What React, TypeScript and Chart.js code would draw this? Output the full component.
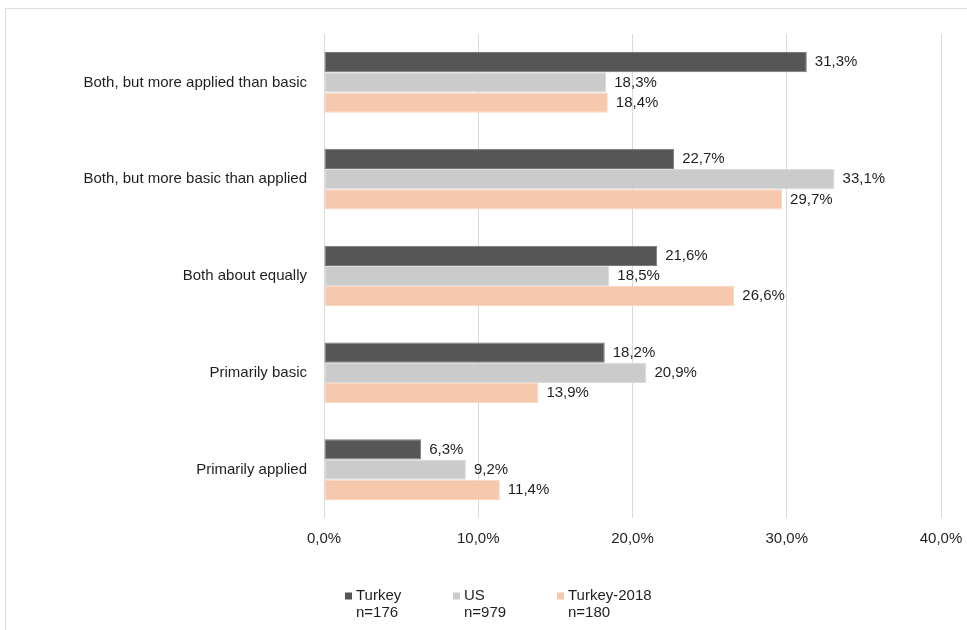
import React, { useEffect, useRef } from "react";
import { Chart, registerables } from "chart.js";

Chart.register(...registerables);

const categories = [
  "Both, but more applied than basic",
  "Both, but more basic than applied",
  "Both about equally",
  "Primarily basic",
  "Primarily applied",
];
const turkey = [31.3, 22.7, 21.6, 18.2, 6.3];
const us = [18.3, 33.1, 18.5, 20.9, 9.2];
const turkey2018 = [18.4, 29.7, 26.6, 13.9, 11.4];
const seriesNames = ["Turkey", "US", "Turkey-2018"];
const seriesSubs = ["n=176", "n=979", "n=180"];
const colors = ["#565656", "#cbcbcb", "#f6c8ad"];
const borders = ["#7a7a7a", "#dcdcdc", "#fad6c1"];

const FONT = '"Liberation Sans", Arial, sans-serif';
const FS = 15;
const TEXT = "#1f1f1f";
const fmt = (v: number) => v.toFixed(1).replace(".", ",") + "%";

const framePlugin = {
  id: "frame",
  beforeDraw(chart: any) {
    const ctx = chart.ctx;
    ctx.save();
    ctx.fillStyle = "#ffffff";
    ctx.fillRect(0, 0, chart.width, chart.height);
    ctx.strokeStyle = "#dedede";
    ctx.lineWidth = 1;
    ctx.strokeRect(5.5, 8.5, chart.width + 20, chart.height + 20);
    ctx.restore();
  },
};

const valueLabels = {
  id: "valueLabels",
  afterDatasetsDraw(chart: any) {
    const ctx = chart.ctx;
    ctx.save();
    ctx.font = `${FS}px ${FONT}`;
    ctx.fillStyle = TEXT;
    ctx.textAlign = "left";
    ctx.textBaseline = "middle";
    chart.data.datasets.forEach((ds: any, i: number) => {
      const meta = chart.getDatasetMeta(i);
      meta.data.forEach((el: any, j: number) => {
        ctx.fillText(fmt(ds.data[j]), el.x + 8, el.y);
      });
    });
    ctx.restore();
  },
};

const customLegend = {
  id: "customLegend",
  afterDraw(chart: any) {
    const ctx = chart.ctx;
    const startX = 345;
    const colW = [108, 104];
    const y1 = 596;
    const y2 = 613;
    ctx.save();
    ctx.font = `${FS}px ${FONT}`;
    ctx.textBaseline = "middle";
    ctx.textAlign = "left";
    let x = startX;
    seriesNames.forEach((name, i) => {
      ctx.fillStyle = colors[i];
      ctx.fillRect(x, y1 - 3.5, 7, 7);
      ctx.fillStyle = TEXT;
      ctx.fillText(name, x + 11, y1);
      ctx.fillText(seriesSubs[i], x + 11, y2);
      x += colW[i] || 104;
    });
    ctx.restore();
  },
};

export default function App() {
  const ref = useRef<HTMLCanvasElement>(null);
  useEffect(() => {
    if (!ref.current) return;
    const data = [turkey, us, turkey2018];
    const chart = new Chart(ref.current, {
      type: "bar",
      data: {
        labels: categories,
        datasets: seriesNames.map((n, i) => ({
          label: n,
          data: data[i],
          backgroundColor: colors[i],
          borderColor: borders[i],
          borderWidth: 1,
          borderSkipped: false,
          categoryPercentage: 0.627,
          barPercentage: 1,
        })),
      },
      options: {
        indexAxis: "y",
        animation: false,
        responsive: false,
        maintainAspectRatio: false,
        layout: { padding: { left: 0, right: 26, top: 34, bottom: 0 } },
        plugins: {
          legend: { display: false },
          tooltip: { enabled: false },
        },
        scales: {
          x: {
            min: 0,
            max: 40,
            ticks: {
              stepSize: 10,
              padding: 2,
              color: TEXT,
              font: { family: FONT, size: FS },
              callback: (v: any) => fmt(Number(v)),
              maxRotation: 0,
            },
            grid: {
              color: "#d9d9d9",
              lineWidth: 1,
              drawTicks: true,
              tickLength: 10,
              tickColor: "rgba(0,0,0,0)",
            },
            border: { display: false },
            afterFit: (s: any) => {
              s.height = 112;
            },
          },
          y: {
            ticks: {
              padding: 17,
              color: TEXT,
              font: { family: FONT, size: FS },
            },
            grid: { display: false, drawTicks: false },
            border: { display: false },
            afterFit: (s: any) => {
              s.width = 324;
            },
          },
        },
      },
      plugins: [framePlugin, valueLabels, customLegend],
    } as any);
    return () => chart.destroy();
  }, []);
  return (
    <div style={{ position: "fixed", left: 0, top: 0, width: 967, height: 630, background: "#fff" }}>
      <canvas ref={ref} width={967} height={630} style={{ display: "block", width: 967, height: 630 }} />
    </div>
  );
}
